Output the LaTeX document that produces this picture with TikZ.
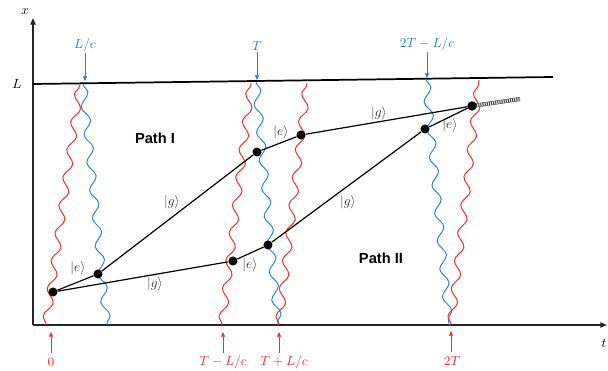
\documentclass[tikz,border=0pt]{standalone}
\usepackage{fontspec}
\newfontfamily\pathfont{Liberation Sans}
\usetikzlibrary{decorations.pathmorphing,arrows.meta}
\definecolor{wred}{HTML}{FF2A2A}
\definecolor{wblue}{HTML}{2A86D6}
\definecolor{lblue}{HTML}{2E7BC4}
\definecolor{kgray}{HTML}{333333}
\begin{document}
\begin{tikzpicture}[x=0.75pt,y=-0.75pt,
  redwave/.style={wred, line width=0.75pt, decorate, decoration={snake, amplitude=3pt, segment length=21pt}},
  bluewave/.style={wblue, line width=0.75pt, decorate, decoration={snake, amplitude=3pt, segment length=21pt}},
  atom/.style={circle, fill=black, inner sep=0pt, minimum size=6.8pt},
  pathline/.style={black, line width=0.9pt},
  ket/.style={text=kgray, font=\normalsize, inner sep=1pt},
  bluelbl/.style={text=lblue, font=\normalsize, inner sep=1pt},
  redlbl/.style={text=wred, font=\normalsize, inner sep=1pt},
  bluearrow/.style={lblue, line width=0.5pt, -{Triangle[length=3.5pt,width=3pt]}},
  redarrow/.style={wred, line width=0.5pt, -{Triangle[length=3.5pt,width=3pt]}},
  axisline/.style={black!85, line width=0.9pt, -{Triangle[length=5pt,width=4pt]}},
  pathlbl/.style={font=\pathfont\bfseries\fontsize{11}{13}\selectfont}
]
\useasboundingbox (0,0) rectangle (608,371);

% axes
\coordinate (O) at (33,325);
\coordinate (ytop) at (33,18);
\coordinate (xend) at (607,325);
\draw[axisline] (O) -- (ytop);
\draw[axisline] (O) -- (xend);
\node (xl) at (25,12) {$x$};
\node (tl) at (604,343) {$t$};
\node (Ll) at (17,84) {$L$};

% mirror line L
\coordinate (L0) at (33,84);
\coordinate (L1) at (553,77);
\draw[black, line width=1.3pt] (L0) -- (L1);

% waves
\coordinate (r1b) at (46,325); \coordinate (r1t) at (80,84);
\coordinate (b1t) at (83,84);  \coordinate (b1b) at (107,325);
\coordinate (r2b) at (222,325); \coordinate (r2t) at (251,83);
\coordinate (b2t) at (256,82);  \coordinate (b2b) at (278,325);
\coordinate (r3b) at (279,325); \coordinate (r3t) at (307,83);
\coordinate (b3t) at (426,79);  \coordinate (b3b) at (449,325);
\coordinate (r4b) at (451,325); \coordinate (r4t) at (479,80);
\draw[redwave] (r1b) -- (r1t);
\draw[bluewave] (b1t) -- (b1b);
\draw[redwave] (r2b) -- (r2t);
\draw[bluewave] (b2t) -- (b2b);
\draw[redwave] (r3b) -- (r3t);
\draw[bluewave] (b3t) -- (b3b);
\draw[redwave] (r4b) -- (r4t);

% top blue labels
\node[bluelbl] (lc) at (85,45) {$L/c$};
\node[bluelbl] (tt) at (257,46) {$T$};
\node[bluelbl] (tlc) at (427,44) {$2T-L/c$};
\coordinate (lca) at (85,81);
\coordinate (tta) at (257,80);
\coordinate (tlca) at (427,78);
\draw[bluearrow] (lc) -- (lca);
\draw[bluearrow] (tt) -- (tta);
\draw[bluearrow] (tlc) -- (tlca);

% bottom red labels
\node[redlbl] (z0) at (51,362) {$0$};
\node[redlbl] (tm) at (223,362) {$T-L/c$};
\node[redlbl] (tp) at (284,362) {$T+L/c$};
\node[redlbl] (t2) at (452,361) {$2T$};
\coordinate (z0a) at (51,332);
\coordinate (tma) at (223,332);
\coordinate (tpa) at (279,332);
\coordinate (t2a) at (451,331);
\coordinate (z0s) at (51,353);
\coordinate (tms) at (223,353);
\coordinate (tps) at (279,353);
\coordinate (t2s) at (451,352);
\draw[redarrow] (z0s) -- (z0a);
\draw[redarrow] (tms) -- (tma);
\draw[redarrow] (tps) -- (tpa);
\draw[redarrow] (t2s) -- (t2a);

% atoms
\node[atom] (A) at (53,292) {};
\node[atom] (B) at (98,274) {};
\node[atom] (C) at (233,261) {};
\node[atom] (D) at (268,245) {};
\node[atom] (E) at (257,152) {};
\node[atom] (F) at (301,135) {};
\node[atom] (G) at (425,129) {};
\node[atom] (H) at (472,106) {};

% paths
\draw[pathline] (A) -- (B);
\draw[pathline] (B) -- (E);
\draw[pathline] (E) -- (F);
\draw[pathline] (F) -- (H);
\draw[pathline] (A) -- (C);
\draw[pathline] (C) -- (D);
\draw[pathline] (D) -- (G);
\draw[pathline] (G) -- (H);

% dotted extension
\coordinate (ext) at (520,99);
\draw[black!80, line width=0.4pt, double, double distance=2.2pt] (H.center) -- (ext);
\draw[black!75, line width=2.2pt, dash pattern=on 0.8pt off 0.8pt] (H.center) -- (ext);
\node[atom] at (H) {};

% ket labels
\node[ket] (k1) at (78,268) {$|e\rangle$};
\node[ket] (k2) at (155,284) {$|g\rangle$};
\node[ket] (k3) at (172,202) {$|g\rangle$};
\node[ket] (k4) at (250,265) {$|e\rangle$};
\node[ket] (k5) at (281,132) {$|e\rangle$};
\node[ket] (k6) at (379,113) {$|g\rangle$};
\node[ket] (k7) at (348,202) {$|g\rangle$};
\node[ket] (k8) at (450,125) {$|e\rangle$};

% path labels
\node[pathlbl] (p1) at (155,138) {Path I};
\node[pathlbl] (p2) at (381,258) {Path II};
\end{tikzpicture}
\end{document}
